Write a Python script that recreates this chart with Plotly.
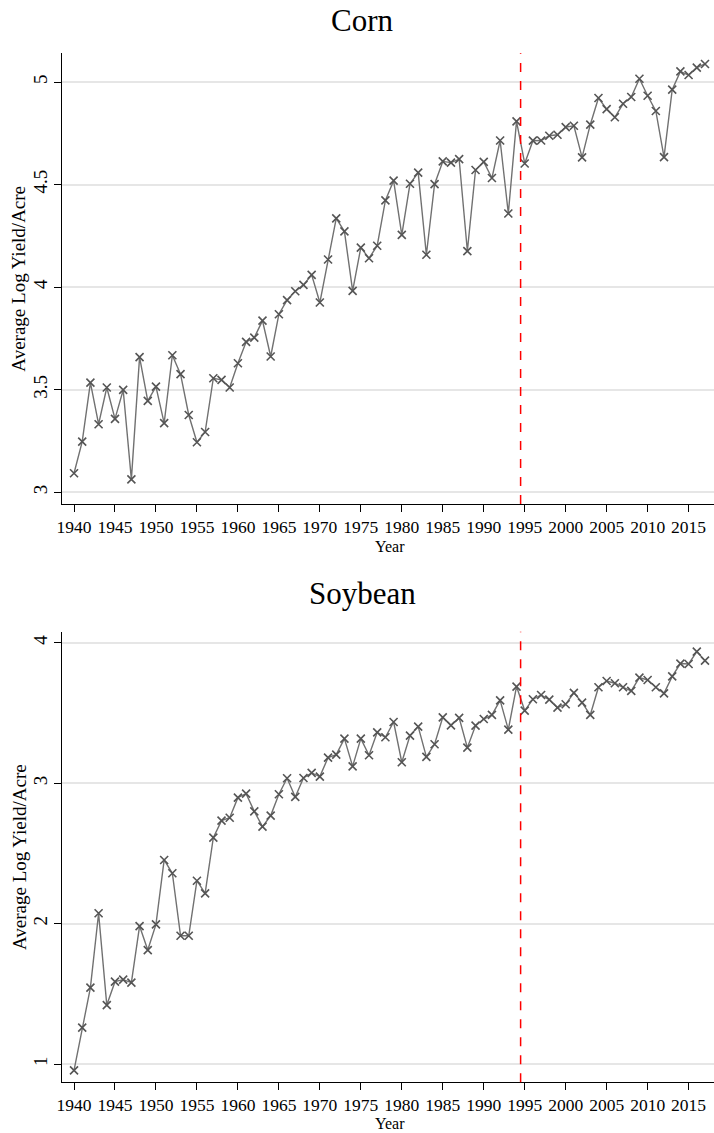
import plotly.graph_objects as go

years = list(range(1940, 2018))

corn = [
    3.093, 3.247, 3.535, 3.332, 3.511, 3.358, 3.499, 3.063, 3.659, 3.446,
    3.515, 3.337, 3.668, 3.576, 3.377, 3.244, 3.294, 3.556, 3.548, 3.511,
    3.629, 3.733, 3.754, 3.837, 3.662, 3.868, 3.937, 3.980, 4.011, 4.060,
    3.925, 4.135, 4.335, 4.272, 3.982, 4.193, 4.141, 4.202, 4.423, 4.519,
    4.255, 4.504, 4.558, 4.158, 4.502, 4.613, 4.607, 4.624, 4.176, 4.571,
    4.611, 4.532, 4.715, 4.359, 4.808, 4.603, 4.714, 4.715, 4.738, 4.743,
    4.780, 4.787, 4.633, 4.792, 4.922, 4.868, 4.828, 4.894, 4.927, 5.016,
    4.933, 4.859, 4.634, 4.963, 5.052, 5.034, 5.070, 5.088,
]

soybean = [
    0.955, 1.259, 1.544, 2.074, 1.420, 1.587, 1.601, 1.580, 1.983, 1.812,
    1.995, 2.454, 2.359, 1.914, 1.914, 2.306, 2.216, 2.613, 2.734, 2.755,
    2.898, 2.926, 2.800, 2.691, 2.770, 2.922, 3.036, 2.903, 3.038, 3.074,
    3.048, 3.183, 3.204, 3.318, 3.121, 3.318, 3.200, 3.363, 3.328, 3.437,
    3.150, 3.340, 3.404, 3.188, 3.278, 3.470, 3.413, 3.466, 3.254, 3.411,
    3.458, 3.487, 3.591, 3.382, 3.689, 3.518, 3.599, 3.629, 3.596, 3.539,
    3.563, 3.644, 3.575, 3.487, 3.684, 3.729, 3.713, 3.684, 3.658, 3.753,
    3.736, 3.684, 3.641, 3.762, 3.853, 3.850, 3.938, 3.874,
]

x_ticks = list(range(1940, 2016, 5))
corn_ticks = [3, 3.5, 4, 4.5, 5]
corn_tick_text = ["3", "3.5", "4", "4.5", "5"]
soy_ticks = [1, 2, 3, 4]
soy_tick_text = ["1", "2", "3", "4"]
break_year = 1994.5

W, H = 714, 1133
FONT = "Liberation Serif"
LINE_C = "#717171"
MARK_C = "#555555"

fig = go.Figure()

for series, xa, ya in [(corn, "x", "y"), (soybean, "x2", "y2")]:
    fig.add_trace(go.Scatter(
        x=years, y=series, xaxis=xa, yaxis=ya, mode="lines+markers",
        line=dict(color=LINE_C, width=1.4),
        marker=dict(symbol="x-thin", size=8, line=dict(color=MARK_C, width=1.6)),
        showlegend=False, hoverinfo="x+y",
    ))

x_left = 62.3 / W
dom_corn = [1 - 504 / H, 1 - 53.3 / H]
dom_soy = [1 - 1082.3 / H, 1 - 631.7 / H]

xcommon = dict(
    range=[1938.57, 2018.1], tickmode="array", tickvals=x_ticks,
    ticks="outside", ticklen=7, tickwidth=1.2, tickcolor="black",
    showline=True, linecolor="black", linewidth=1.3, showgrid=False,
    zeroline=False, tickfont=dict(family=FONT, size=17.5, color="black"),
    domain=[x_left, 1], automargin=False,
)
ycommon = dict(
    ticks="outside", ticklen=7, tickwidth=1.2, tickcolor="black",
    showline=True, linecolor="black", linewidth=1.3, showgrid=True,
    gridcolor="#e6e6e6", gridwidth=1.5, zeroline=False, tickangle=-90,
    tickfont=dict(family=FONT, size=19, color="black"), automargin=False,
    tickmode="array",
)

fig.update_layout(
    width=W, height=H, margin=dict(l=0, r=0, t=0, b=0),
    paper_bgcolor="white", plot_bgcolor="white",
    xaxis=dict(**xcommon, anchor="y"),
    yaxis=dict(**ycommon, domain=dom_corn, range=[2.943, 5.14],
               tickvals=corn_ticks, ticktext=corn_tick_text, anchor="x"),
    xaxis2=dict(**xcommon, anchor="y2"),
    yaxis2=dict(**ycommon, domain=dom_soy, range=[0.870, 4.08],
                tickvals=soy_ticks, ticktext=soy_tick_text, anchor="x2"),
)

# vertical dashed break line in each panel
for xr, yr in [("x", "y domain"), ("x2", "y2 domain")]:
    fig.add_shape(type="line", xref=xr, yref=yr, x0=break_year, x1=break_year,
                  y0=0, y1=1, line=dict(color="#ff0000", width=1.5, dash="dash"))

# panel titles
for text, ymid in [("Corn", 20), ("Soybean", 593)]:
    fig.add_annotation(text=text, xref="paper", yref="paper", x=362 / W,
                       y=1 - ymid / H, xanchor="center", yanchor="middle",
                       showarrow=False,
                       font=dict(family=FONT, size=31, color="black"))

# axis titles
for ybot, ytop, gap in [(504, 53.3, 43), (1082.3, 631.7, 41)]:
    fig.add_annotation(text="Year", xref="paper", yref="paper", x=390 / W,
                       y=1 - (ybot + gap) / H, xanchor="center", yanchor="middle",
                       showarrow=False, borderpad=0,
                       font=dict(family=FONT, size=16, color="black"))
    fig.add_annotation(text="Average Log Yield/Acre", xref="paper", yref="paper",
                       x=19 / W, y=1 - (ybot + ytop) / 2 / H, xanchor="center",
                       yanchor="middle", textangle=-90, showarrow=False,
                       font=dict(family=FONT, size=19, color="black"))

fig.write_html("out.html")
